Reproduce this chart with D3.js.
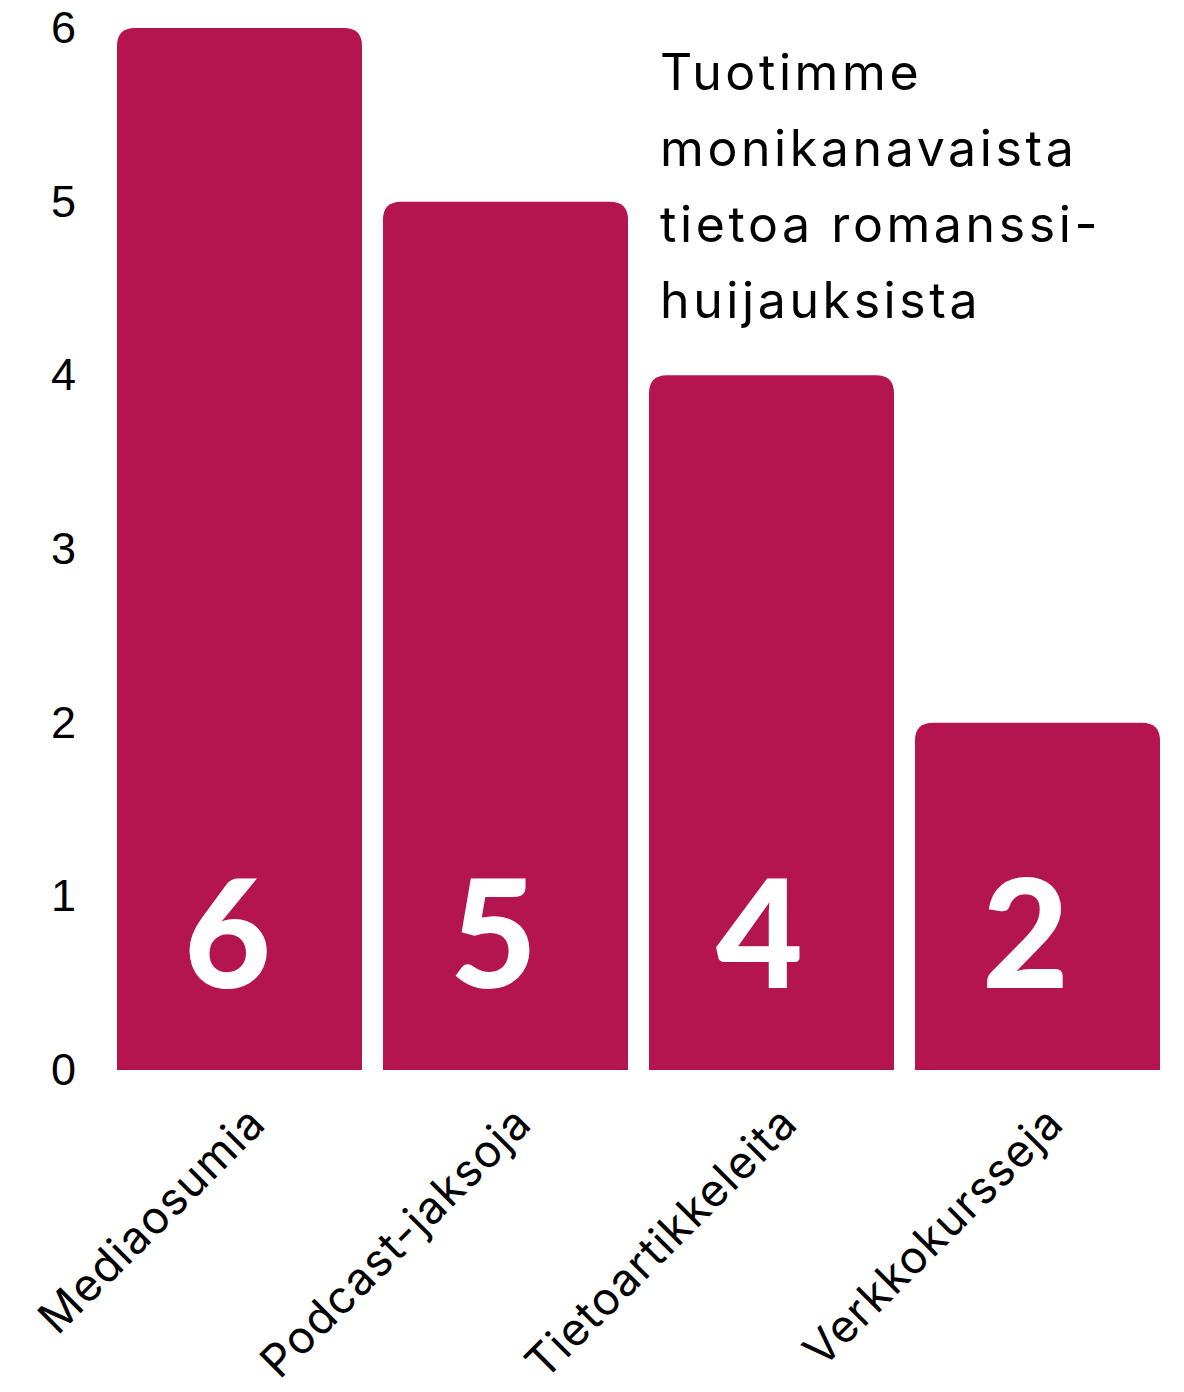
<!DOCTYPE html>
<html>
<head>
<meta charset="utf-8">
<script src="https://cdn.jsdelivr.net/npm/d3@7"></script>
<style>
  body { margin: 0; background: #fff; }
</style>
</head>
<body>
<div id="app"></div>
<script>
const categories = ['Mediaosumia', 'Podcast-jaksoja', 'Tietoartikkeleita', 'Verkkokursseja'];
const values = [6, 5, 4, 2];
const yTicks = [0, 1, 2, 3, 4, 5, 6];
const titleLines = ['Tuotimme', 'monikanavaista', 'tietoa romanssi-', 'huijauksista'];

const width = 1184;
const height = 1392;
const barColor = '#b5154f';

const svg = d3.select('#app')
  .append('svg')
  .attr('width', width)
  .attr('height', height);

const xScale = d3.scaleBand()
  .domain(categories)
  .range([106.5, 1170.5])
  .paddingInner(0.079)
  .paddingOuter(0.0395);

const yScale = d3.scaleLinear()
  .domain([0, 6])
  .range([1070, 28]);

// y tick labels only, no axis line
const yAxis = svg.append('g')
  .attr('transform', 'translate(76, 0)')
  .call(d3.axisLeft(yScale).tickValues(yTicks).tickFormat(d3.format('d')).tickSize(0).tickPadding(0));
yAxis.select('.domain').remove();
yAxis.selectAll('text')
  .attr('font-family', '"Liberation Sans", Arial, sans-serif')
  .attr('font-size', 45)
  .attr('fill', '#000');

// top-rounded bars
const r = 18;
function barPath(d, i) {
  const x0 = xScale(categories[i]);
  const x1 = x0 + xScale.bandwidth();
  const y0 = yScale(0);
  const y1 = yScale(d);
  return `M${x0},${y0} V${y1 + r} Q${x0},${y1} ${x0 + r},${y1} H${x1 - r} Q${x1},${y1} ${x1},${y1 + r} V${y0} Z`;
}

svg.append('g')
  .selectAll('path')
  .data(values)
  .join('path')
  .attr('d', barPath)
  .attr('fill', barColor);

// value labels in bars
svg.append('g')
  .selectAll('text')
  .data(values)
  .join('text')
  .attr('x', (d, i) => xScale(categories[i]) + xScale.bandwidth() / 2 - 12)
  .attr('y', 988)
  .attr('text-anchor', 'middle')
  .attr('font-family', 'Lato, sans-serif')
  .attr('font-weight', 900)
  .attr('font-size', 150)
  .attr('fill', '#fff')
  .text(d => d);

// x labels rotated
svg.append('g')
  .selectAll('text')
  .data(categories)
  .join('text')
  .attr('transform', d => `translate(${xScale(d) + xScale.bandwidth() / 2 + 6}, 1103) rotate(-45)`)
  .attr('text-anchor', 'end')
  .attr('dy', '0.71em')
  .attr('font-family', 'Inter, sans-serif')
  .attr('font-size', 45)
  .attr('letter-spacing', 1.3)
  .attr('fill', '#000')
  .text(d => d);

// title
svg.append('g')
  .selectAll('text')
  .data(titleLines)
  .join('text')
  .attr('x', 660)
  .attr('y', (d, i) => 90 + i * 76)
  .attr('font-family', 'Inter, sans-serif')
  .attr('font-size', 50)
  .attr('letter-spacing', 3.6)
  .attr('fill', '#000')
  .text(d => d);
</script>
</body>
</html>
